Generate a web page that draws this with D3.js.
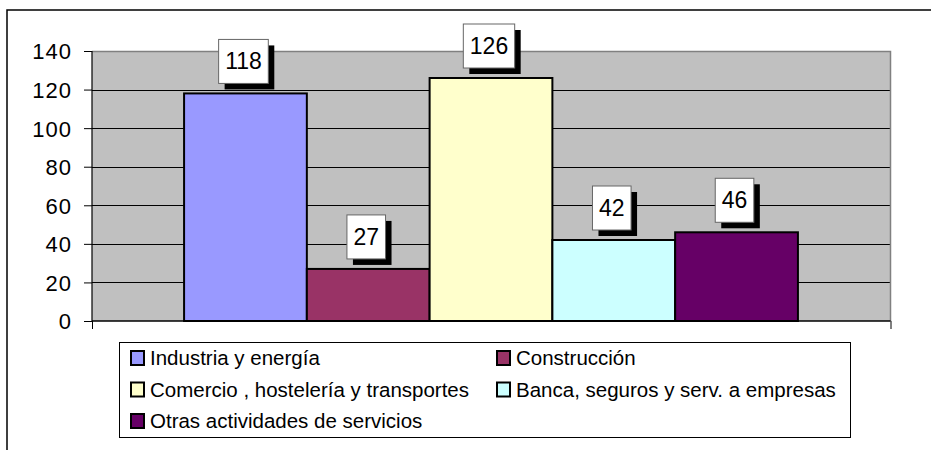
<!DOCTYPE html>
<html><head><meta charset="utf-8">
<script src="https://cdn.jsdelivr.net/npm/d3@7"></script>
<style>
html,body{margin:0;padding:0;background:#fff;}
svg{display:block;font-family:Arial,"Liberation Sans",sans-serif;}
</style></head>
<body>
<svg id="chart" width="931" height="450"></svg>
<script>
const categories = ["Industria y energía", "Construcción", "Comercio , hostelería y transportes", "Banca, seguros y serv. a empresas", "Otras actividades de servicios"];
const values = [118, 27, 126, 42, 46];
const colors = ["#9999FF", "#993366", "#FFFFCC", "#CCFFFF", "#660066"];
const yTicks = [0, 20, 40, 60, 80, 100, 120, 140];

const svg = d3.select("#chart");
// chart frame
svg.append("path").attr("d", "M7,451 L7,10 L935,10").attr("fill", "none").attr("stroke", "#000").attr("stroke-width", 1.5);

const plot = {left: 92, top: 51, right: 890, bottom: 321};
const y = d3.scaleLinear().domain([0, 140]).range([plot.bottom, plot.top]);
const x0 = d3.scaleBand().domain(["g"]).range([plot.left, plot.right]);
const gw = x0.bandwidth();
// gap width 150% => group occupies bars, 0.75 bar each side
const barW = gw / (values.length + 1.5);
const x = d3.scaleBand().domain(d3.range(values.length))
  .range([plot.left + 0.75 * barW, plot.right - 0.75 * barW]).paddingInner(0).paddingOuter(0);

// plot background
svg.append("rect").attr("x", plot.left).attr("y", plot.top)
  .attr("width", plot.right - plot.left).attr("height", plot.bottom - plot.top)
  .attr("fill", "#C0C0C0");
// gridlines
svg.append("g").selectAll("line").data(yTicks.filter(d => d > 0 && d < 140)).join("line")
  .attr("x1", plot.left).attr("x2", plot.right)
  .attr("y1", d => Math.round(y(d)) + 0.5).attr("y2", d => Math.round(y(d)) + 0.5)
  .attr("stroke", "#000").attr("stroke-width", 1);
// top/right border gray
svg.append("path").attr("d", `M${plot.left},${plot.top + 0.5} L${plot.right + 0.5},${plot.top + 0.5} L${plot.right + 0.5},${plot.bottom}`)
  .attr("fill", "none").attr("stroke", "#808080").attr("stroke-width", 1.5);

// bars
svg.append("g").selectAll("rect").data(values).join("rect")
  .attr("x", (d, i) => x(i)).attr("y", d => y(d))
  .attr("width", x.bandwidth()).attr("height", d => y(0) - y(d))
  .attr("fill", (d, i) => colors[i]).attr("stroke", "#000").attr("stroke-width", 2);

// y axis
const yAxis = d3.axisLeft(y).tickValues(yTicks).tickSize(8).tickPadding(12);
const ga = svg.append("g").attr("transform", `translate(${plot.left},0)`).call(yAxis);
ga.select(".domain").attr("stroke", "#000").attr("stroke-width", 1.2).attr("d", `M0,${plot.top}V${plot.bottom}`);
ga.selectAll(".tick line").attr("stroke", "#000");
ga.selectAll(".tick text").attr("font-size", 22).attr("fill", "#000")
  .attr("font-family", "Arial, 'Liberation Sans', sans-serif").attr("letter-spacing", 1).attr("dy", "0.36em");
// x axis
const xAxis = d3.axisBottom(d3.scaleLinear().domain([0, 1]).range([plot.left, plot.right + 0.5])).tickValues([0, 1]).tickSize(8).tickFormat("");
const gx = svg.append("g").attr("transform", `translate(0,${plot.bottom})`).call(xAxis);
gx.select(".domain").attr("stroke", "#000").attr("stroke-width", 1.5).attr("d", `M${plot.left},0H${plot.right + 0.5}`);
gx.selectAll(".tick line").attr("stroke", "#000");

// data labels
const lab = svg.append("g").selectAll("g").data(values).join("g");
lab.each(function(d, i) {
  const g = d3.select(this);
  const cx = x(i) + x.bandwidth() / 2 - 2;
  const t = g.append("text").text(d).attr("font-size", 23).attr("text-anchor", "middle")
    .attr("x", cx).attr("y", y(d) - 10 - 22 + 8).attr("fill", "#000");
  const w = t.node().getComputedTextLength() + 13;
  const h = 44;
  const bx = cx - w / 2, by = y(d) - 10 - h;
  g.insert("rect", "text").attr("x", bx + 6).attr("y", by + 6).attr("width", w).attr("height", h).attr("fill", "#000");
  g.insert("rect", "text").attr("x", bx).attr("y", by).attr("width", w).attr("height", h)
    .attr("fill", "#fff").attr("stroke", "#666").attr("stroke-width", 1);
});

// legend
svg.append("rect").attr("x", 119.5).attr("y", 342.5).attr("width", 731).attr("height", 95)
  .attr("fill", "#fff").attr("stroke", "#000").attr("stroke-width", 1);
const colX = [131, 497];
const rowY = [358, 389.5, 421];
const leg = svg.append("g").selectAll("g").data(categories).join("g")
  .attr("transform", (d, i) => `translate(${colX[i % 2]},${rowY[Math.floor(i / 2)]})`);
leg.append("rect").attr("x", 0).attr("y", -7).attr("width", 13).attr("height", 14)
  .attr("fill", (d, i) => colors[i]).attr("stroke", "#000").attr("stroke-width", 2);
leg.append("text").attr("x", 19).attr("y", 7).attr("font-size", 20.5).attr("fill", "#000").text(d => d);
</script>
</body></html>
